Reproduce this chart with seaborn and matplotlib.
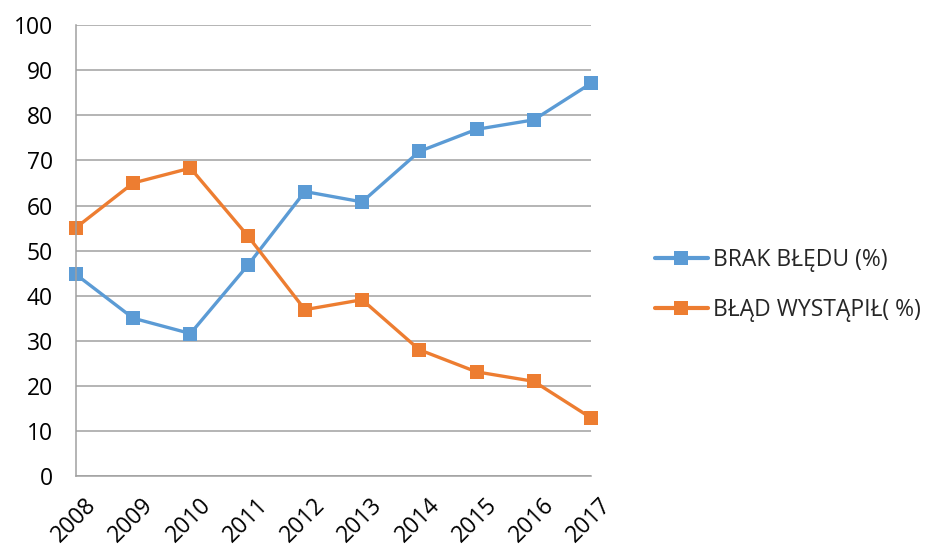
import matplotlib
matplotlib.use("Agg")
import matplotlib.pyplot as plt
import matplotlib.transforms as mtransforms
import seaborn as sns
import pandas as pd

years = ["2008", "2009", "2010", "2011", "2012", "2013", "2014", "2015", "2016", "2017"]
brak_bledu = [44.7, 35.0, 31.6, 46.7, 63.1, 60.8, 72.0, 76.9, 79.0, 87.1]
blad_wystapil = [55.1, 65.0, 68.3, 53.3, 36.9, 39.1, 28.0, 23.1, 21.0, 12.9]
series_names = ["BRAK BŁĘDU (%)", "BŁĄD WYSTĄPIŁ( %)"]
colors = ["#5B9BD5", "#ED7D31"]

df = pd.concat([
    pd.DataFrame({"rok": years, "wartosc": brak_bledu, "seria": series_names[0]}),
    pd.DataFrame({"rok": years, "wartosc": blad_wystapil, "seria": series_names[1]}),
])

sns.set_style("white")
plt.rcParams["font.family"] = ["Open Sans", "DejaVu Sans"]
FS = 16.5

fig = plt.figure(figsize=(9.27, 5.48), dpi=100)
ax = fig.add_axes([0.082, 0.1314, 0.5555, 0.8226])

sns.lineplot(data=df, x="rok", y="wartosc", hue="seria", palette=colors,
             marker="s", markersize=10, markeredgewidth=0, linewidth=2.4,
             sort=False, ax=ax)
for line in ax.lines:
    line.set_clip_on(False)

ax.set_xlim(0, len(years) - 1)
ax.set_ylim(0, 100)
ax.set_yticks(range(0, 101, 10))
ax.grid(axis="y", color="#a0a0a0", linewidth=1.1)
ax.set_axisbelow(True)
for side in ["top", "right"]:
    ax.spines[side].set_visible(False)
for side in ["left", "bottom"]:
    ax.spines[side].set_color("#a0a0a0")
    ax.spines[side].set_linewidth(1.1)
ax.tick_params(axis="both", direction="out", length=6.5, width=1.1,
               color="#a0a0a0", labelsize=FS, labelcolor="#000000")
ax.tick_params(axis="y", pad=10)
ax.tick_params(axis="x", pad=6)
shift = mtransforms.ScaledTranslation(6 / 72, 0, fig.dpi_scale_trans)
for lbl in ax.get_xticklabels():
    lbl.set_rotation(45)
    lbl.set_ha("right")
    lbl.set_va("top")
    lbl.set_rotation_mode("anchor")
    lbl.set_transform(lbl.get_transform() + shift)
ax.set_xlabel("")
ax.set_ylabel("")

handles, labels = ax.get_legend_handles_labels()
for h in handles:
    h.set_linewidth(3)
ax.legend(handles, labels, loc="center left", bbox_to_anchor=(1.124, 0.423),
          frameon=False, fontsize=FS, handlelength=2.3, labelspacing=1.15,
          handletextpad=0.25, borderpad=0, borderaxespad=0)

fig.savefig("out.png", dpi=100, facecolor="white")
